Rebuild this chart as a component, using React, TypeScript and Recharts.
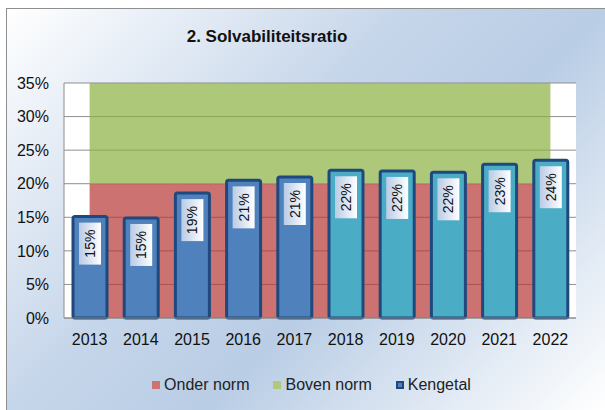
import { Area, Bar, CartesianGrid, Cell, ComposedChart, LabelList, Legend, XAxis, YAxis } from "recharts";

const years = ["2013", "2014", "2015", "2016", "2017", "2018", "2019", "2020", "2021", "2022"];
const kengetal = [15.1, 14.9, 18.6, 20.5, 21.0, 22.0, 21.9, 21.7, 22.9, 23.5];
const labels = ["15%", "15%", "19%", "21%", "21%", "22%", "22%", "22%", "23%", "24%"];
const onderNorm = [20, 20, 20, 20, 20, 20, 20, 20, 20, 20];
const bovenNorm = [15, 15, 15, 15, 15, 15, 15, 15, 15, 15];
const yTicks = [0, 5, 10, 15, 20, 25, 30, 35];

const data = years.map((year, i) => ({
  year,
  onder: onderNorm[i],
  boven: bovenNorm[i],
  kengetal: kengetal[i],
  label: labels[i],
}));

const FONT = "'Liberation Sans', Arial, sans-serif";

const BarLabel = (props: any) => {
  const { x, y, width, index } = props;
  const cx = x + width / 2;
  const boxH = 42;
  const boxW = 22;
  const top = y + 6;
  const cy = top + boxH / 2;
  return (
    <g>
      <rect x={cx - boxW / 2} y={top} width={boxW} height={boxH} fill="url(#lblGrad)" />
      <text
        x={cx}
        y={cy}
        transform={`rotate(-90 ${cx} ${cy})`}
        textAnchor="middle"
        dominantBaseline="central"
        fontSize={14}
        fontFamily={FONT}
        fill="#111"
      >
        {labels[index]}
      </text>
    </g>
  );
};

const LegendContent = () => {
  const items = [
    { name: "Onder norm", fill: "#cd7371", stroke: "none" },
    { name: "Boven norm", fill: "#afc87a", stroke: "none" },
    { name: "Kengetal", fill: "#4f81bd", stroke: "#1f497d" },
  ];
  return (
    <div style={{ height: 30, display: "flex", justifyContent: "center", alignItems: "center", fontFamily: FONT, fontSize: 16, color: "#222", paddingLeft: 40 }}>
      {items.map((it) => (
        <div key={it.name} style={{ display: "flex", alignItems: "center", margin: "0 12px" }}>
          <svg width={8} height={8} style={{ marginRight: 4 }}>
            {it.stroke === "none" ? (
              <rect x={0} y={0} width={8} height={8} fill={it.fill} />
            ) : (
              <rect x={1} y={1} width={6} height={6} fill={it.fill} stroke={it.stroke} strokeWidth={2} />
            )}
          </svg>
          <span>{it.name}</span>
        </div>
      ))}
    </div>
  );
};

export default function App() {
  return (
    <div
      style={{
        position: "absolute",
        left: 6,
        top: 8,
        width: 599,
        height: 402,
        boxSizing: "border-box",
        border: "1px solid #8e8e8e",
        borderRight: "none",
        borderBottom: "none",
        background: "linear-gradient(135deg, #ffffff 0%, #c6d6ea 40%, #b9cde5 60%, #ffffff 100%)",
      }}
    >
      <div
        style={{
          position: "absolute",
          left: 0,
          width: 520,
          top: 18,
          textAlign: "center",
          fontFamily: FONT,
          fontWeight: "bold",
          fontSize: 17,
          color: "#111",
        }}
      >
        2. Solvabiliteitsratio
      </div>
      <ComposedChart width={597} height={400} data={data} margin={{ top: 74, right: 28, bottom: 9, left: 0 }} barCategoryGap={0}>
        <defs>
          <linearGradient id="lblGrad" x1="0" y1="0" x2="1" y2="0">
            <stop offset="0%" stopColor="#b9cbe6" />
            <stop offset="100%" stopColor="#ffffff" />
          </linearGradient>
        </defs>
        <CartesianGrid vertical={false} stroke="#8f8f8f" fill="#ffffff" />
        <XAxis
          dataKey="year"
          height={52}
          tickLine={false}
          axisLine={{ stroke: "#8c8c8c" }}
          tick={{ fontSize: 16, fontFamily: FONT, fill: "#111" }}
          tickMargin={10}
        />
        <YAxis
          width={57}
          domain={[0, 35]}
          ticks={yTicks}
          tickFormatter={(v) => `${v}%`}
          tickLine={false}
          axisLine={{ stroke: "#8c8c8c" }}
          tick={{ fontSize: 16, fontFamily: FONT, fill: "#111" }}
          tickMargin={9}
        />
        <Area type="linear" dataKey="onder" stackId="norm" stroke="none" fill="#b73734" fillOpacity={0.7} isAnimationActive={false} />
        <Area type="linear" dataKey="boven" stackId="norm" stroke="none" fill="#8cb041" fillOpacity={0.7} isAnimationActive={false} />
        <Bar dataKey="kengetal" barSize={34} stroke="#1f497d" strokeWidth={3} radius={2} isAnimationActive={false}>
          {data.map((d, i) => (
            <Cell key={d.year} fill={i < 5 ? "#4f81bd" : "#4bacc6"} />
          ))}
          <LabelList dataKey="label" content={BarLabel} />
        </Bar>
        <Legend verticalAlign="bottom" content={LegendContent} />
      </ComposedChart>
    </div>
  );
}
